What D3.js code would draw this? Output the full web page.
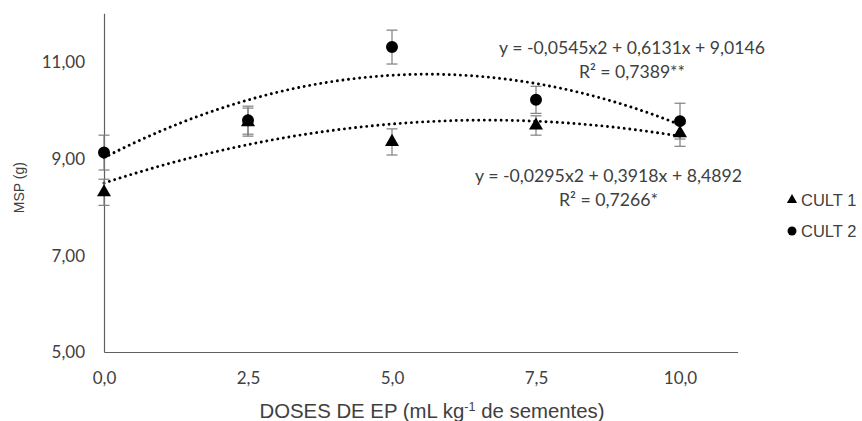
<!DOCTYPE html>
<html>
<head>
<meta charset="utf-8">
<script src="https://cdn.jsdelivr.net/npm/d3@7/dist/d3.min.js"></script>
<style>
  html, body { margin: 0; padding: 0; background: #fff; }
  svg { display: block; }
</style>
</head>
<body>
<div id="chart"></div>
<script>
// ---- data ----
const doses = [0, 2.5, 5, 7.5, 10];
const xTicks = [0, 2.5, 5, 7.5, 10];
const yTicks = [5, 7, 9, 11];
const cult1 = [8.30, 9.75, 9.34, 9.68, 9.52];
const cult1Err = [0.27, 0.29, 0.27, 0.20, 0.27];
const cult2 = [9.12, 9.79, 11.30, 10.21, 9.77];
const cult2Err = [0.36, 0.29, 0.35, 0.28, 0.37];
// trendline coefficients (a, b, c) for y = a x^2 + b x + c, as printed on the chart
const trend1 = [-0.0295, 0.3918, 8.4892];
const trend2 = [-0.0545, 0.6131, 9.0146];
const eq1 = ["y = -0,0295x2 + 0,3918x + 8,4892", "R² = 0,7266*"];
const eq2 = ["y = -0,0545x2 + 0,6131x + 9,0146", "R² = 0,7389**"];
const seriesNames = ["CULT 1", "CULT 2"];

// ---- layout ----
const W = 862, H = 421;
const svg = d3.select("#chart").append("svg").attr("width", W).attr("height", H);

const x = d3.scaleLinear().domain([0, 11]).range([104, 737.6]);
const y = d3.scaleLinear().domain([5, 12]).range([352, 13.2]);

const textColor = "#404040";
const axisColor = "#5f5f5f";
const calib = "Lato, 'Open Sans', sans-serif";
const arial = "'Liberation Sans', Arial, sans-serif";

// scale a text's font size so that it spans the given width
function fit(sel, base, width) {
  sel.style("font-size", base + "px");
  const w = sel.node().getComputedTextLength();
  sel.style("font-size", (base * width / w).toFixed(2) + "px");
}

// axes
const yAxis = svg.append("g").attr("transform", `translate(${x(0)},0)`)
  .call(d3.axisLeft(y).tickValues(yTicks).tickSize(0)
    .tickFormat(d => d3.format(".2f")(d).replace(".", ",")));
const xAxis = svg.append("g").attr("transform", `translate(0,${y(5)})`)
  .call(d3.axisBottom(x).tickValues(xTicks).tickSize(0)
    .tickFormat(d => d3.format(".1f")(d).replace(".", ",")));
[yAxis, xAxis].forEach(g => {
  g.select(".domain").attr("stroke", axisColor).attr("stroke-width", 1.2);
  g.selectAll("text").attr("fill", textColor).style("font-family", calib).style("font-size", "17px");
});
yAxis.selectAll("text").attr("x", -19).attr("dy", "0.35em");
xAxis.selectAll("text").attr("y", 378 - 352).attr("dy", "0.35em");

// axis titles
svg.append("text")
  .attr("transform", `translate(19,${(y(5) + y(12)) / 2 + 5}) rotate(-90)`)
  .attr("text-anchor", "middle").attr("dy", "0.35em")
  .style("font-family", arial).style("font-size", "14px").attr("fill", textColor)
  .text("MSP (g)");

const xt = svg.append("text")
  .attr("x", 432).attr("y", 411).attr("dy", "0.35em")
  .attr("text-anchor", "middle")
  .style("font-family", arial).attr("fill", textColor);
xt.append("tspan").text("DOSES DE EP (mL kg");
xt.append("tspan").attr("baseline-shift", "super").style("font-size", "0.62em").text("-1");
xt.append("tspan").text(" de sementes)");
fit(xt, 14, 345);

// trend lines
function trendPts(c) {
  const pts = [];
  for (let i = 0; i <= 100; i++) {
    const xv = 10 * i / 100;
    pts.push([xv, c[0] * xv * xv + c[1] * xv + c[2]]);
  }
  return pts;
}
const line = d3.line().x(d => x(d[0])).y(d => y(d[1]));
[trend1, trend2].forEach(c => {
  svg.append("path").attr("d", line(trendPts(c)))
    .attr("fill", "none").attr("stroke", "#000")
    .attr("stroke-width", 2.9).attr("stroke-linecap", "round")
    .attr("stroke-dasharray", "0.01 5.6");
});

// error bars
const capW = 5.5;
function errorBars(vals, errs) {
  const g = svg.append("g").attr("stroke", "#7f7f7f").attr("stroke-width", 1.2);
  doses.forEach((d, i) => {
    const cx = x(d), y1 = y(vals[i] + errs[i]), y2 = y(vals[i] - errs[i]);
    g.append("line").attr("x1", cx).attr("x2", cx).attr("y1", y1).attr("y2", y2);
    g.append("line").attr("x1", cx - capW).attr("x2", cx + capW).attr("y1", y1).attr("y2", y1);
    g.append("line").attr("x1", cx - capW).attr("x2", cx + capW).attr("y1", y2).attr("y2", y2);
  });
}
errorBars(cult1, cult1Err);
errorBars(cult2, cult2Err);

// markers
const triSym = d3.symbol().type(d3.symbolTriangle).size(85);
const cirSym = d3.symbol().type(d3.symbolCircle).size(113);
svg.append("g").selectAll("path").data(doses).join("path")
  .attr("d", triSym).attr("fill", "#000")
  .attr("transform", (d, i) => `translate(${x(d)},${y(cult1[i])})`);
svg.append("g").selectAll("path").data(doses).join("path")
  .attr("d", cirSym).attr("fill", "#000")
  .attr("transform", (d, i) => `translate(${x(d)},${y(cult2[i])})`);

// equations
function eqLabel(lines, cx, cy, w1) {
  let fs = 17;
  lines.forEach((t, i) => {
    const el = svg.append("text").attr("x", cx).attr("y", cy + i * 23.5).attr("dy", "0.35em")
      .attr("text-anchor", "middle")
      .style("font-family", calib).attr("fill", textColor)
      .text(t);
    if (i === 0) { fit(el, 17, w1); fs = parseFloat(el.style("font-size")); }
    else el.style("font-size", fs + "px");
  });
}
eqLabel(eq2, 632, 48, 266);
eqLabel(eq1, 608.5, 176, 267);

// legend
const leg = svg.append("g");
const legSyms = [d3.symbol().type(d3.symbolTriangle).size(45), d3.symbol().type(d3.symbolCircle).size(62)];
seriesNames.forEach((n, i) => {
  const ly = 200 + i * 31;
  leg.append("path").attr("d", legSyms[i]).attr("fill", "#000").attr("transform", `translate(792,${ly})`);
  leg.append("text").attr("x", 801).attr("y", ly).attr("dy", "0.35em")
    .style("font-family", arial).style("font-size", "16.5px").attr("fill", textColor).text(n);
});
</script>
</body>
</html>
